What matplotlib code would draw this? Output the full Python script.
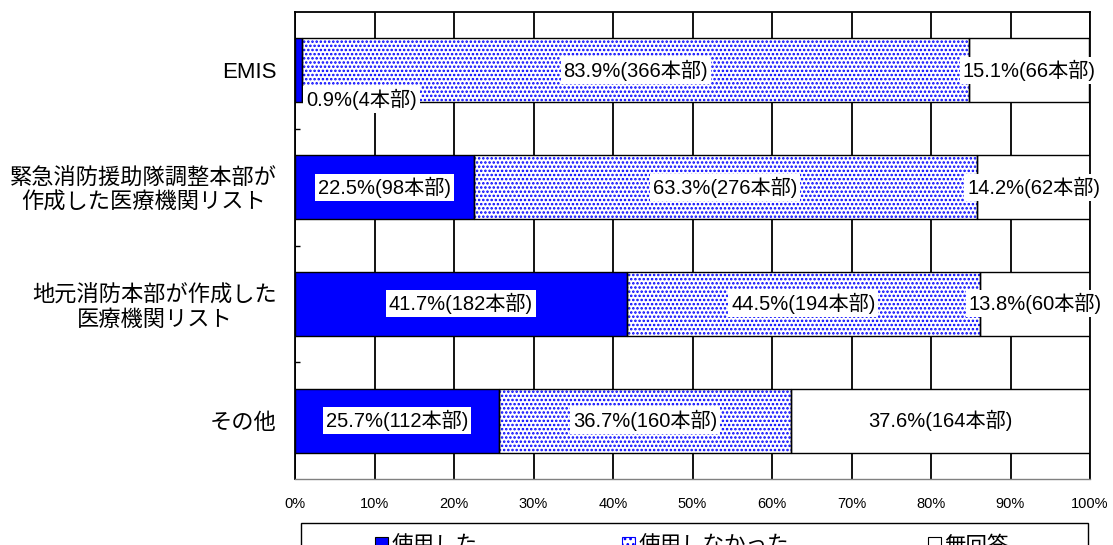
import matplotlib
matplotlib.use("Agg")
import matplotlib.pyplot as plt
from matplotlib.patches import Rectangle, Patch
import numpy as np

plt.rcParams['font.family'] = ['Liberation Sans', 'Noto Sans CJK JP', 'DejaVu Sans']
plt.rcParams['hatch.linewidth'] = 1.2

categories = ["EMIS",
              "緊急消防援助隊調整本部が\n作成した医療機関リスト",
              "地元消防本部が作成した\n医療機関リスト",
              "その他"]
series_names = ["使用した", "使用しなかった", "無回答"]
used_pct = [0.9, 22.5, 41.7, 25.7]
not_used_pct = [83.9, 63.3, 44.5, 36.7]
no_answer_pct = [15.1, 14.2, 13.8, 37.6]
used_n = [4, 98, 182, 112]
not_used_n = [366, 276, 194, 160]
no_answer_n = [66, 62, 60, 164]
x_ticks = [0, 10, 20, 30, 40, 50, 60, 70, 80, 90, 100]

W, H = 1113, 545
fig = plt.figure(figsize=(W / 100, H / 100), dpi=100)
ax = fig.add_axes([295 / W, 1 - 479 / H, 795 / W, 467 / H])

y = np.arange(len(categories))
bar_h = 0.55
fs_val = 14.5
fs_cat = 16
fs_leg = 15.5
BLUE = '#0000ff'

# fill style per series; hatch colour follows edgecolor, so outlines are drawn separately
fills = [dict(facecolor=BLUE, edgecolor=BLUE),
         dict(facecolor='white', edgecolor=BLUE, hatch='....'),
         dict(facecolor='white', edgecolor='white')]
pcts = [used_pct, not_used_pct, no_answer_pct]
counts = [used_n, not_used_n, no_answer_n]

left = np.zeros(len(categories))
bbox = dict(facecolor='white', edgecolor='none', pad=2)
for vals, ns, st in zip(pcts, counts, fills):
    vals = np.array(vals)
    ax.barh(y, vals, left=left, height=bar_h, linewidth=0, zorder=2, **st)
    ax.barh(y, vals, left=left, height=bar_h, fill=False, edgecolor='black',
            linewidth=1.0, zorder=3)
    for i, (v, n) in enumerate(zip(vals, ns)):
        label = f"{v:.1f}%({n}本部)"
        if v < 5:
            ax.text(left[i] + v + 0.5, y[i] + 0.25, label, ha='left', va='center',
                    fontsize=fs_val, bbox=bbox, zorder=4)
        else:
            ax.text(left[i] + v / 2, y[i], label, ha='center', va='center',
                    fontsize=fs_val, bbox=bbox, zorder=4)
    left = left + vals

ax.set_xlim(0, 100)
ax.set_ylim(len(categories) - 0.5, -0.5)
ax.set_xticks(x_ticks)
ax.set_xticklabels([f"{t}%" for t in x_ticks], fontsize=10.5)
ax.tick_params(axis='x', length=0, pad=13)
ax.set_yticks(y)
ax.set_yticklabels(categories, fontsize=fs_cat, multialignment='center')
ax.tick_params(axis='y', which='major', length=0, pad=13)
ax.set_yticks(np.arange(0.5, len(categories) - 0.5, 1.0), minor=True)
ax.tick_params(axis='y', which='minor', direction='in', length=3.5, width=1.0, color='black')

ax.set_axisbelow(True)
ax.xaxis.grid(True, color='black', linewidth=1.3)
for side in ['left', 'top', 'right']:
    ax.spines[side].set_color('black')
    ax.spines[side].set_linewidth(1.3)
ax.spines['bottom'].set_color('#808080')
ax.spines['bottom'].set_linewidth(1.0)

# legend frame, running off the bottom edge
fig.patches.append(Rectangle((301 / W, -0.05), 787 / W, 0.05 + 1 - 523 / H,
                             transform=fig.transFigure, facecolor='white',
                             edgecolor='black', linewidth=1.0, zorder=5))
legend_x = [375, 622, 928]
legend_styles = [dict(facecolor=BLUE, edgecolor='black'),
                 dict(facecolor='white', edgecolor=BLUE, hatch='...'),
                 dict(facecolor='white', edgecolor='black')]
for name, st, lx in zip(series_names, legend_styles, legend_x):
    handle = Patch(linewidth=0.8, **st)
    lg = fig.legend([handle], [name], loc='center left',
                    bbox_to_anchor=(lx / W, 1 - 546 / H), frameon=False,
                    fontsize=fs_leg, handlelength=0.6, handleheight=0.6,
                    handletextpad=0.15, borderpad=0, borderaxespad=0)
    lg.set_zorder(6)

fig.savefig("out.png", dpi=100)
